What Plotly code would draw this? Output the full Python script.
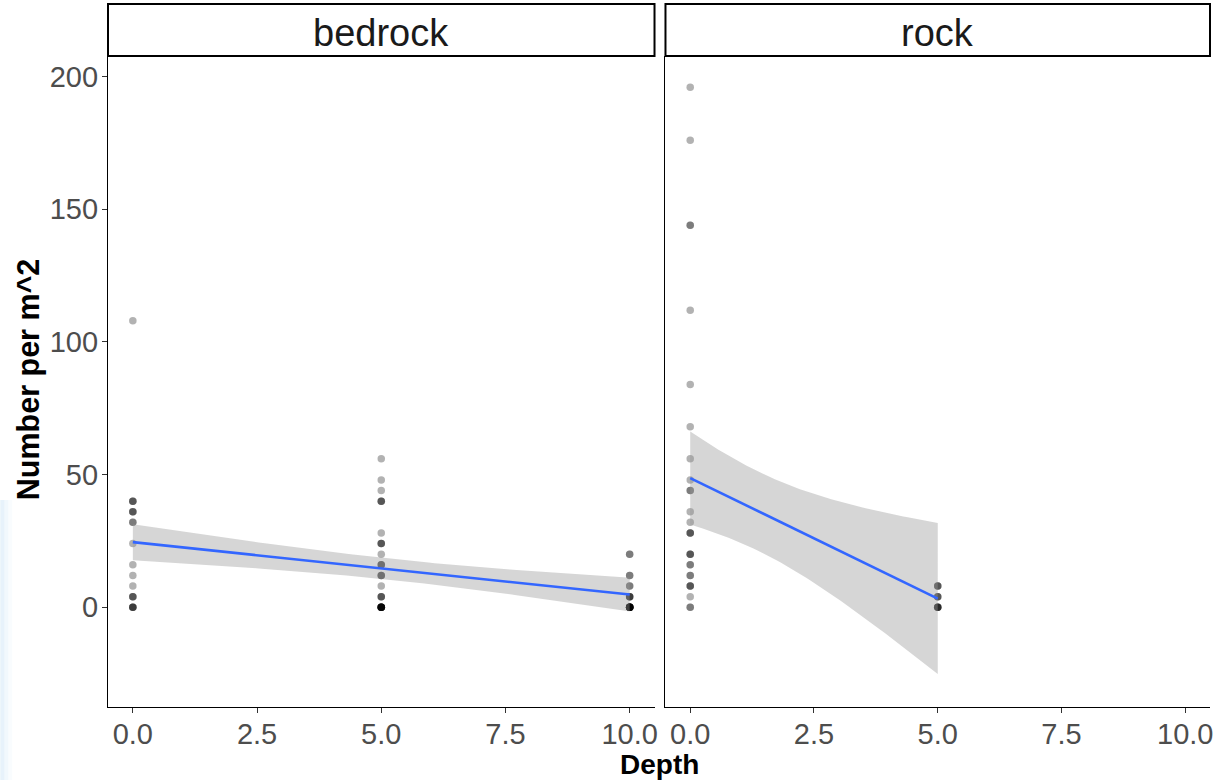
import math
import numpy as np
import plotly.graph_objects as go

# ---------------- data ----------------
panels = ["bedrock", "rock"]

# bedrock, depth 0
bed_d0_vals = [108, 40, 36, 32, 24, 16, 12, 8, 4, 0]
bed_d0_cnts = [1, 3, 3, 2, 1, 1, 1, 1, 3, 4]
# bedrock, depth 5
bed_d5_vals = [56, 48, 44, 40, 28, 24, 20, 16, 12, 8, 4, 0]
bed_d5_cnts = [1, 1, 1, 3, 1, 3, 1, 3, 3, 1, 3, 10]
# bedrock, depth 10
bed_d10_vals = [20, 12, 8, 4, 0]
bed_d10_cnts = [2, 2, 2, 4, 14]

# rock, depth 0
rock_d0_vals = [196, 176, 144, 112, 84, 68, 56, 48, 44, 36, 32, 28, 20, 16, 12, 8, 4, 0]
rock_d0_cnts = [1, 1, 2, 1, 1, 1, 1, 1, 2, 1, 1, 3, 3, 2, 2, 3, 1, 2]
# rock, depth 5
rock_d5_vals = [8, 4, 0]
rock_d5_cnts = [3, 3, 5]

x_tickvals = [0, 2.5, 5, 7.5, 10]
x_ticktext = ["0.0", "2.5", "5.0", "7.5", "10.0"]
y_tickvals = [0, 50, 100, 150, 200]
y_ticktext = ["0", "50", "100", "150", "200"]


def expand(depth, vals, cnts):
    xs, ys = [], []
    for v, c in zip(vals, cnts):
        xs += [depth] * c
        ys += [v] * c
    return xs, ys


def build(groups):
    X, Y = [], []
    for d, v, c in groups:
        xs, ys = expand(d, v, c)
        X += xs
        Y += ys
    return np.array(X, float), np.array(Y, float)


bed_x, bed_y = build([(0, bed_d0_vals, bed_d0_cnts), (5, bed_d5_vals, bed_d5_cnts),
                      (10, bed_d10_vals, bed_d10_cnts)])
rock_x, rock_y = build([(0, rock_d0_vals, rock_d0_cnts), (5, rock_d5_vals, rock_d5_cnts)])


def t975(df):
    z = 1.959964
    return (z + (z**3 + z) / (4 * df) + (5 * z**5 + 16 * z**3 + 3 * z) / (96 * df**2)
            + (3 * z**7 + 19 * z**5 + 17 * z**3 - 15 * z) / (384 * df**3))


def lm_ci(x, y, n=80):
    N = len(x)
    xb = x.mean()
    sxx = ((x - xb) ** 2).sum()
    b = ((x - xb) * (y - y.mean())).sum() / sxx
    a = y.mean() - b * xb
    res = y - (a + b * x)
    s = math.sqrt((res ** 2).sum() / (N - 2))
    xg = np.linspace(x.min(), x.max(), n)
    fit = a + b * xg
    se = s * np.sqrt(1 / N + (xg - xb) ** 2 / sxx)
    t = t975(N - 2)
    return xg, fit, fit - t * se, fit + t * se


fig = go.Figure()

FONT = "Liberation Sans, Arial, sans-serif"
tick_font = dict(family=FONT, size=29, color="#4d4d4d")

for i, (px, py) in enumerate([(bed_x, bed_y), (rock_x, rock_y)]):
    xa = "x" if i == 0 else "x2"
    ya = "y" if i == 0 else "y2"
    fig.add_trace(go.Scatter(x=px, y=py, mode="markers", xaxis=xa, yaxis=ya,
                             marker=dict(size=7.5, color="black", opacity=0.3, line=dict(width=0)),
                             showlegend=False, hoverinfo="skip"))
    xg, fit, lo, hi = lm_ci(px, py)
    fig.add_trace(go.Scatter(x=np.concatenate([xg, xg[::-1]]), y=np.concatenate([hi, lo[::-1]]),
                             fill="toself", fillcolor="rgba(153,153,153,0.4)",
                             line=dict(width=0), mode="lines", xaxis=xa, yaxis=ya,
                             showlegend=False, hoverinfo="skip"))
    fig.add_trace(go.Scatter(x=xg, y=fit, mode="lines", line=dict(color="#3366FF", width=2.6),
                             xaxis=xa, yaxis=ya, showlegend=False, hoverinfo="skip"))

W, H = 1223, 780
ml, mr, mt, mb = 108, 10, 56, 73
pw = W - ml - mr
ph = H - mt - mb
d1 = (656 - ml) / pw
d2 = (667 - ml) / pw

xcommon = dict(range=[-0.5, 10.5], tickvals=x_tickvals, ticktext=x_ticktext, showgrid=False,
               zeroline=False, showline=True, linecolor="black", linewidth=1.2,
               ticks="outside", ticklen=5, tickcolor="#333333", tickwidth=1.1,
               tickfont=tick_font, ticklabelstandoff=-4)
ycommon = dict(range=[-37.6, 207.8], tickvals=y_tickvals, ticktext=y_ticktext, showgrid=False,
               zeroline=False, showline=True, linecolor="black", linewidth=1.2)

fig.update_layout(
    width=W, height=H,
    margin=dict(l=ml, r=mr, t=mt, b=mb),
    paper_bgcolor="white", plot_bgcolor="white",
    xaxis=dict(domain=[0, d1], anchor="y", **xcommon),
    xaxis2=dict(domain=[d2, 1], anchor="y2", **xcommon),
    yaxis=dict(domain=[0, 1], anchor="x", ticks="outside", ticklen=5, tickcolor="#333333",
               tickwidth=1.1, tickfont=tick_font, ticklabelstandoff=-2, **ycommon),
    yaxis2=dict(domain=[0, 1], anchor="x2", ticks="", showticklabels=False, **ycommon),
)

# very faint light-blue glow along the lower left edge of the screenshot
for w, a in [(12, 0.06), (8, 0.08), (4, 0.1)]:
    fig.add_shape(type="rect", xref="paper", yref="paper",
                  x0=(0 - ml) / pw, x1=(w - ml) / pw,
                  y0=(H - mb - 780) / ph, y1=(H - mb - 500) / ph,
                  line=dict(width=0), fillcolor=f"rgba(150,200,240,{a})", layer="below")

strip_top = (H - mb - 4) / ph
for i, name in enumerate(panels):
    xr = "x domain" if i == 0 else "x2 domain"
    fig.add_shape(type="rect", xref=xr, yref="paper", x0=0, x1=1, y0=1, y1=strip_top,
                  line=dict(color="black", width=2), fillcolor="white")
    fig.add_annotation(xref=xr, yref="paper", x=0.5, y=(H - mb - 33) / ph, text=name,
                       showarrow=False, xanchor="center", yanchor="middle",
                       font=dict(family=FONT, size=38, color="#1a1a1a"))

fig.add_annotation(xref="paper", yref="paper", x=(661 - ml) / pw, y=(H - mb - 764) / ph,
                   text="<b>Depth</b>", showarrow=False, xanchor="center", yanchor="middle",
                   font=dict(family=FONT, size=28, color="black"))
fig.add_annotation(xref="paper", yref="paper", x=(28 - ml) / pw, y=(H - mb - 379) / ph,
                   text="<b>Number per m^2</b>", showarrow=False, textangle=-90,
                   xanchor="center", yanchor="middle",
                   font=dict(family=FONT, size=30.5, color="black"))

fig.write_html("out.html")
